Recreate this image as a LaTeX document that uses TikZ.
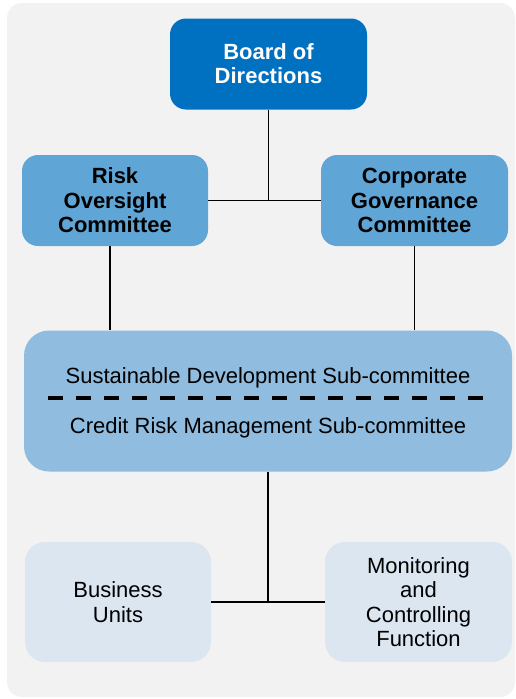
\documentclass[tikz,border=0pt]{standalone}
\usepackage{fontspec}
\setmainfont{Liberation Sans}
\definecolor{bgc}{HTML}{F2F2F2}
\definecolor{boardc}{HTML}{0070C0}
\definecolor{commc}{HTML}{5FA5D5}
\definecolor{subc}{HTML}{8FBCDF}
\definecolor{unitc}{HTML}{DCE6F0}
\tikzset{
  box/.style={rectangle, rounded corners=16pt, draw=none, align=center, inner sep=0pt,
    font=\fontsize{22}{24.5}\selectfont},
  boardbox/.style={box, fill=boardc, text=white, font=\bfseries\fontsize{22}{24}\selectfont},
  commbox/.style={box, fill=commc, font=\bfseries\fontsize{22}{24.5}\selectfont},
  unitbox/.style={box, fill=unitc, rounded corners=20pt},
  link/.style={line width=1.4pt, black},
  txt/.style={inner sep=0pt, font=\fontsize{22}{24.5}\selectfont}
}
\begin{document}
\begin{tikzpicture}[x=1pt,y=-1pt]
\useasboundingbox (0,0) rectangle (516,699);
\fill[bgc, rounded corners=15pt] (7,3) rectangle (515,697);

\node[boardbox, minimum width=197pt, minimum height=91pt] (board) at (268.5,64) {Board of\\Directions};
\node[commbox, minimum width=186pt, minimum height=91pt] (risk) at (115,200.5) {Risk\\Oversight\\Committee};
\node[commbox, minimum width=187pt, minimum height=91pt] (corp) at (414.5,200.5) {Corporate\\Governance\\Committee};
\node[box, fill=subc, rounded corners=25pt, minimum width=488pt, minimum height=141pt] (sub) at (268,401) {};
\node[txt] (sd) at (268,377.5) {Sustainable Development Sub-committee};
\node[txt] (cr) at (268,427.5) {Credit Risk Management Sub-committee};
\coordinate (dl) at (48,398);
\coordinate (dr) at (484,398);
\draw[line width=4pt, dash pattern=on 15pt off 13pt] (dl) -- (dr);
\node[unitbox, minimum width=186pt, minimum height=120pt] (bu) at (118,602) {Business\\Units};
\node[unitbox, minimum width=187pt, minimum height=120pt] (mon) at (418.5,602) {Monitoring\\and\\Controlling\\Function};

\draw[link] (board.south) -- (board.south |- risk.east);
\draw[link] (risk.east) -- (corp.west);
\draw[link] ([xshift=-5pt]risk.south) -- ([xshift=-5pt]risk.south |- sub.north);
\draw[link] (corp.south) -- (corp.south |- sub.north);
\draw[link] (sub.south) -- (sub.south |- bu.east);
\draw[link] (bu.east) -- (mon.west);
\end{tikzpicture}
\end{document}
